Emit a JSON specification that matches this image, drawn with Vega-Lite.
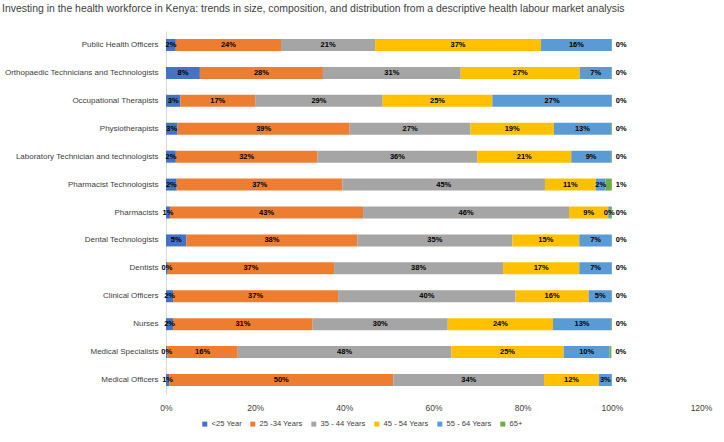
{
  "$schema": "https://vega.github.io/schema/vega-lite/v6.json",
  "width": 535,
  "height": 363,
  "autosize": "none",
  "padding": {"left": 166, "top": 31, "right": 23, "bottom": 48},
  "background": "white",
  "title": {
    "text": "Investing in the health workforce in Kenya: trends in size, composition, and distribution from a descriptive health labour market analysis",
    "anchor": "start",
    "frame": "group",
    "dx": -164,
    "offset": 17,
    "font": "Liberation Sans",
    "fontSize": 10.45,
    "fontWeight": "normal",
    "color": "#404040"
  },
  "config": {"view": {"stroke": null}},
  "data": {"values": [
    {"occupation": "Public Health Officers", "age": "<25 Year", "order": 1, "share": 0.022},
    {"occupation": "Public Health Officers", "age": "25 -34 Years", "order": 2, "share": 0.236},
    {"occupation": "Public Health Officers", "age": "35 - 44 Years", "order": 3, "share": 0.211},
    {"occupation": "Public Health Officers", "age": "45 - 54 Years", "order": 4, "share": 0.372},
    {"occupation": "Public Health Officers", "age": "55 - 64 Years", "order": 5, "share": 0.159},
    {"occupation": "Public Health Officers", "age": "65+", "order": 6, "share": 0.0},
    {"occupation": "Orthopaedic Technicians and Technologists", "age": "<25 Year", "order": 1, "share": 0.076},
    {"occupation": "Orthopaedic Technicians and Technologists", "age": "25 -34 Years", "order": 2, "share": 0.276},
    {"occupation": "Orthopaedic Technicians and Technologists", "age": "35 - 44 Years", "order": 3, "share": 0.309},
    {"occupation": "Orthopaedic Technicians and Technologists", "age": "45 - 54 Years", "order": 4, "share": 0.267},
    {"occupation": "Orthopaedic Technicians and Technologists", "age": "55 - 64 Years", "order": 5, "share": 0.072},
    {"occupation": "Orthopaedic Technicians and Technologists", "age": "65+", "order": 6, "share": 0.0},
    {"occupation": "Occupational Therapists", "age": "<25 Year", "order": 1, "share": 0.032},
    {"occupation": "Occupational Therapists", "age": "25 -34 Years", "order": 2, "share": 0.168},
    {"occupation": "Occupational Therapists", "age": "35 - 44 Years", "order": 3, "share": 0.286},
    {"occupation": "Occupational Therapists", "age": "45 - 54 Years", "order": 4, "share": 0.246},
    {"occupation": "Occupational Therapists", "age": "55 - 64 Years", "order": 5, "share": 0.268},
    {"occupation": "Occupational Therapists", "age": "65+", "order": 6, "share": 0.0},
    {"occupation": "Physiotherapists", "age": "<25 Year", "order": 1, "share": 0.026},
    {"occupation": "Physiotherapists", "age": "25 -34 Years", "order": 2, "share": 0.386},
    {"occupation": "Physiotherapists", "age": "35 - 44 Years", "order": 3, "share": 0.271},
    {"occupation": "Physiotherapists", "age": "45 - 54 Years", "order": 4, "share": 0.187},
    {"occupation": "Physiotherapists", "age": "55 - 64 Years", "order": 5, "share": 0.128},
    {"occupation": "Physiotherapists", "age": "65+", "order": 6, "share": 0.002},
    {"occupation": "Laboratory Technician and technologists", "age": "<25 Year", "order": 1, "share": 0.022},
    {"occupation": "Laboratory Technician and technologists", "age": "25 -34 Years", "order": 2, "share": 0.318},
    {"occupation": "Laboratory Technician and technologists", "age": "35 - 44 Years", "order": 3, "share": 0.358},
    {"occupation": "Laboratory Technician and technologists", "age": "45 - 54 Years", "order": 4, "share": 0.211},
    {"occupation": "Laboratory Technician and technologists", "age": "55 - 64 Years", "order": 5, "share": 0.089},
    {"occupation": "Laboratory Technician and technologists", "age": "65+", "order": 6, "share": 0.002},
    {"occupation": "Pharmacist Technologists", "age": "<25 Year", "order": 1, "share": 0.024},
    {"occupation": "Pharmacist Technologists", "age": "25 -34 Years", "order": 2, "share": 0.372},
    {"occupation": "Pharmacist Technologists", "age": "35 - 44 Years", "order": 3, "share": 0.454},
    {"occupation": "Pharmacist Technologists", "age": "45 - 54 Years", "order": 4, "share": 0.114},
    {"occupation": "Pharmacist Technologists", "age": "55 - 64 Years", "order": 5, "share": 0.022},
    {"occupation": "Pharmacist Technologists", "age": "65+", "order": 6, "share": 0.014},
    {"occupation": "Pharmacists", "age": "<25 Year", "order": 1, "share": 0.009},
    {"occupation": "Pharmacists", "age": "25 -34 Years", "order": 2, "share": 0.433},
    {"occupation": "Pharmacists", "age": "35 - 44 Years", "order": 3, "share": 0.462},
    {"occupation": "Pharmacists", "age": "45 - 54 Years", "order": 4, "share": 0.088},
    {"occupation": "Pharmacists", "age": "55 - 64 Years", "order": 5, "share": 0.004},
    {"occupation": "Pharmacists", "age": "65+", "order": 6, "share": 0.004},
    {"occupation": "Dental Technologists", "age": "<25 Year", "order": 1, "share": 0.046},
    {"occupation": "Dental Technologists", "age": "25 -34 Years", "order": 2, "share": 0.383},
    {"occupation": "Dental Technologists", "age": "35 - 44 Years", "order": 3, "share": 0.348},
    {"occupation": "Dental Technologists", "age": "45 - 54 Years", "order": 4, "share": 0.15},
    {"occupation": "Dental Technologists", "age": "55 - 64 Years", "order": 5, "share": 0.073},
    {"occupation": "Dental Technologists", "age": "65+", "order": 6, "share": 0.0},
    {"occupation": "Dentists", "age": "<25 Year", "order": 1, "share": 0.004},
    {"occupation": "Dentists", "age": "25 -34 Years", "order": 2, "share": 0.373},
    {"occupation": "Dentists", "age": "35 - 44 Years", "order": 3, "share": 0.379},
    {"occupation": "Dentists", "age": "45 - 54 Years", "order": 4, "share": 0.171},
    {"occupation": "Dentists", "age": "55 - 64 Years", "order": 5, "share": 0.073},
    {"occupation": "Dentists", "age": "65+", "order": 6, "share": 0.0},
    {"occupation": "Clinical Officers", "age": "<25 Year", "order": 1, "share": 0.016},
    {"occupation": "Clinical Officers", "age": "25 -34 Years", "order": 2, "share": 0.37},
    {"occupation": "Clinical Officers", "age": "35 - 44 Years", "order": 3, "share": 0.398},
    {"occupation": "Clinical Officers", "age": "45 - 54 Years", "order": 4, "share": 0.164},
    {"occupation": "Clinical Officers", "age": "55 - 64 Years", "order": 5, "share": 0.052},
    {"occupation": "Clinical Officers", "age": "65+", "order": 6, "share": 0.0},
    {"occupation": "Nurses", "age": "<25 Year", "order": 1, "share": 0.016},
    {"occupation": "Nurses", "age": "25 -34 Years", "order": 2, "share": 0.313},
    {"occupation": "Nurses", "age": "35 - 44 Years", "order": 3, "share": 0.303},
    {"occupation": "Nurses", "age": "45 - 54 Years", "order": 4, "share": 0.236},
    {"occupation": "Nurses", "age": "55 - 64 Years", "order": 5, "share": 0.13},
    {"occupation": "Nurses", "age": "65+", "order": 6, "share": 0.002},
    {"occupation": "Medical Specialists", "age": "<25 Year", "order": 1, "share": 0.003},
    {"occupation": "Medical Specialists", "age": "25 -34 Years", "order": 2, "share": 0.158},
    {"occupation": "Medical Specialists", "age": "35 - 44 Years", "order": 3, "share": 0.479},
    {"occupation": "Medical Specialists", "age": "45 - 54 Years", "order": 4, "share": 0.252},
    {"occupation": "Medical Specialists", "age": "55 - 64 Years", "order": 5, "share": 0.103},
    {"occupation": "Medical Specialists", "age": "65+", "order": 6, "share": 0.004},
    {"occupation": "Medical Officers", "age": "<25 Year", "order": 1, "share": 0.007},
    {"occupation": "Medical Officers", "age": "25 -34 Years", "order": 2, "share": 0.503},
    {"occupation": "Medical Officers", "age": "35 - 44 Years", "order": 3, "share": 0.338},
    {"occupation": "Medical Officers", "age": "45 - 54 Years", "order": 4, "share": 0.123},
    {"occupation": "Medical Officers", "age": "55 - 64 Years", "order": 5, "share": 0.029},
    {"occupation": "Medical Officers", "age": "65+", "order": 6, "share": 0.0}
  ]},
  "encoding": {
    "y": {
      "field": "occupation",
      "type": "nominal",
      "sort": ["Public Health Officers", "Orthopaedic Technicians and Technologists", "Occupational Therapists", "Physiotherapists", "Laboratory Technician and technologists", "Pharmacist Technologists", "Pharmacists", "Dental Technologists", "Dentists", "Clinical Officers", "Nurses", "Medical Specialists", "Medical Officers"],
      "scale": {"paddingInner": 0.57, "paddingOuter": 0.285},
      "axis": {
        "title": null,
        "ticks": false,
        "domainColor": "#D9D9D9",
        "labelPadding": 8,
        "labelLimit": 300,
        "labelFont": "Liberation Sans",
        "labelFontSize": 8,
        "labelColor": "#404040"
      }
    },
    "order": {"field": "order", "type": "quantitative"}
  },
  "layer": [
    {
      "mark": {"type": "bar"},
      "encoding": {
        "x": {
          "field": "share",
          "type": "quantitative",
          "stack": "zero",
          "scale": {"domain": [0, 1.2], "nice": false},
          "axis": {
            "title": null,
            "format": ".0%",
            "values": [0, 0.2, 0.4, 0.6, 0.8, 1.0, 1.2],
            "grid": false,
            "domain": false,
            "ticks": false,
            "labelFlush": false,
            "labelPadding": 9,
            "labelFont": "Liberation Sans",
            "labelFontSize": 8.5,
            "labelColor": "#404040"
          }
        },
        "color": {
          "field": "age",
          "type": "nominal",
          "scale": {
            "domain": ["<25 Year", "25 -34 Years", "35 - 44 Years", "45 - 54 Years", "55 - 64 Years", "65+"],
            "range": ["#4472C4", "#ED7D31", "#A5A5A5", "#FFC000", "#5B9BD5", "#70AD47"]
          },
          "legend": {
            "title": null,
            "orient": "none",
            "direction": "horizontal",
            "legendX": 35,
            "legendY": 389,
            "symbolType": "square",
            "symbolSize": 25,
            "symbolStrokeWidth": 0,
            "columnPadding": 7,
            "labelOffset": 3,
            "labelFont": "Liberation Sans",
            "labelFontSize": 7.6,
            "labelColor": "#404040"
          }
        }
      }
    },
    {
      "mark": {"type": "text", "font": "Liberation Sans", "fontSize": 7.5, "fontWeight": "bold", "color": "#000000"},
      "encoding": {
        "x": {"field": "share", "type": "quantitative", "stack": "zero", "bandPosition": 0.5},
        "text": {"condition": {"test": "datum.age !== '65+'", "field": "share", "type": "quantitative", "format": ".0%"}, "value": ""},
        "detail": {"field": "age", "type": "nominal"}
      }
    },
    {
      "mark": {"type": "text", "font": "Liberation Sans", "fontSize": 7.5, "fontWeight": "bold", "color": "#000000", "align": "left", "dx": 4},
      "encoding": {
        "x": {"field": "share", "type": "quantitative", "stack": "zero"},
        "text": {"condition": {"test": "datum.age === '65+'", "field": "share", "type": "quantitative", "format": ".0%"}, "value": ""},
        "detail": {"field": "age", "type": "nominal"}
      }
    }
  ]
}
